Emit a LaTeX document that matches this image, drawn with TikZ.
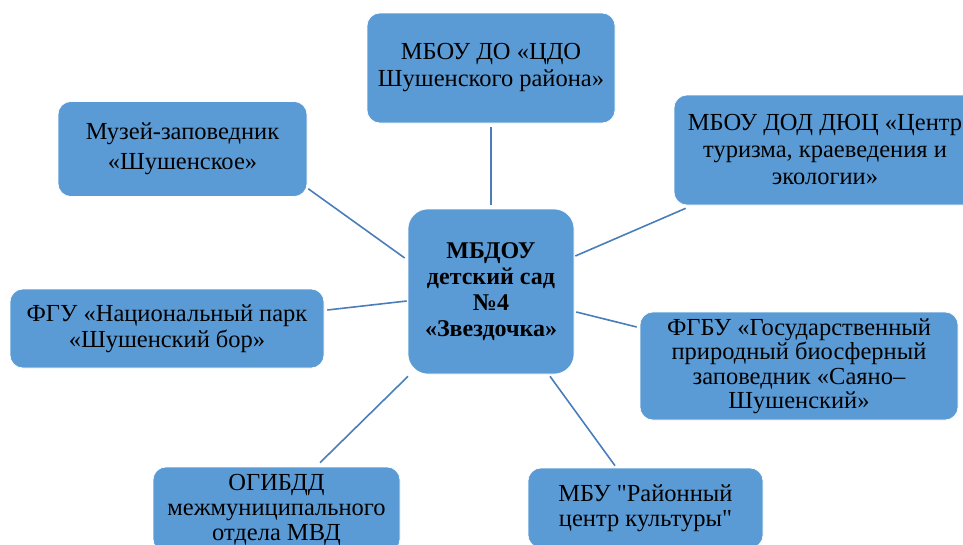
\documentclass[tikz,border=0pt]{standalone}
\usepackage{fontspec}
\setmainfont{Liberation Serif}
\usetikzlibrary{calc}
\definecolor{boxfill}{HTML}{5B9BD5}
\definecolor{linecol}{HTML}{4A7EBB}
\tikzset{
  org/.style={rectangle, rounded corners=13pt, fill=boxfill, draw=white, line width=0.6pt,
    inner sep=0pt, align=center, text=black, font=\fontsize{24.5}{27}\selectfont},
  hub/.style={org, rounded corners=20pt, font=\bfseries\fontsize{24}{26}\selectfont},
  conn/.style={draw=linecol, line width=1.6pt}
}
\begin{document}
\begin{tikzpicture}[x=1pt,y=-1pt]
\clip (0,0) rectangle (963,544);
\fill[white] (0,0) rectangle (963,544);
% nodes
\node[org, minimum width=248pt, minimum height=110pt] (top) at (491,68) {МБОУ ДО «ЦДО\\Шушенского района»};
\node[hub, minimum width=166pt, minimum height=165pt] (c) at (491,291.5) {МБДОУ\\детский сад\\№4\\«Звездочка»};
\node[org, minimum width=302pt, minimum height=110pt] (rtop) at (825,150) {МБОУ ДОД ДЮЦ «Центр\\туризма, краеведения и\\экологии»};
\node[org, minimum width=318pt, minimum height=108pt, font=\fontsize{24.5}{24.5}\selectfont] (rmid) at (799,366) {ФГБУ «Государственный\\природный биосферный\\заповедник «Саяно–\\Шушенский»};
\node[org, minimum width=249pt, minimum height=95pt, font=\fontsize{24.5}{30}\selectfont] (mus) at (182.5,149) {Музей-заповедник\\«Шушенское»};
\node[org, minimum width=314pt, minimum height=79pt, font=\fontsize{24.5}{26}\selectfont] (fgu) at (167,328.5) {ФГУ «Национальный парк\\«Шушенский бор»};
\node[org, minimum width=247pt, minimum height=85pt, font=\fontsize{24.5}{25}\selectfont] (bl) at (276.5,509.5) {ОГИБДД\\межмуниципального\\отдела МВД};
\node[org, minimum width=235pt, minimum height=80pt, font=\fontsize{24.5}{25.5}\selectfont] (br) at (645.5,508) {МБУ \textquotedbl Районный\\центр культуры\textquotedbl};
% connectors
\draw[conn] ($(top.south)+(0,4)$) -- ($(c.north)+(0,-4)$);
\draw[conn] ($(mus.south east)+(1,-8)$) -- ($(c.west)+(-3,-33.5)$);
\draw[conn] ($(fgu.east)+(3,-18.5)$) -- ($(c.west)+(-1,9.5)$);
\draw[conn] ($(c.east)+(1,-35.5)$) -- ($(rtop.south west)+(12,3)$);
\draw[conn] ($(c.east)+(2,20.5)$) -- ($(rmid.west)+(-3,-39)$);
\draw[conn] ($(c.south)+(-83,2)$) -- ($(bl.north)+(43.5,-4)$);
\draw[conn] ($(c.south)+(59,2)$) -- ($(br.north)+(-30.5,-2)$);
\end{tikzpicture}
\end{document}
